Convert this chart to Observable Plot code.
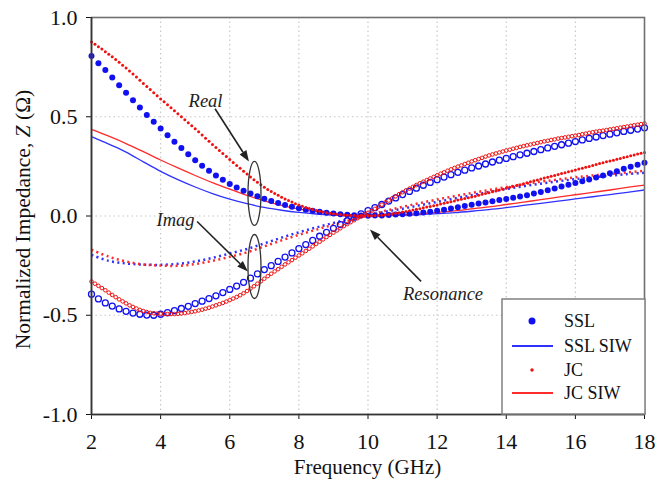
<!DOCTYPE html>
<html>
<head>
<meta charset="utf-8">
<script src="https://cdn.jsdelivr.net/npm/d3@7"></script>
<script src="https://cdn.jsdelivr.net/npm/@observablehq/plot@0.6"></script>
<style>
  html, body { margin: 0; padding: 0; background: #fff; }
  #chart { width: 668px; height: 483px; }
</style>
</head>
<body>
<div id="chart"></div>
<script>
// ---------------- data ----------------
const xTicks = [2, 4, 6, 8, 10, 12, 14, 16, 18];
const yTicks = [-1.0, -0.5, 0.0, 0.5, 1.0];

const freqSSL = [2.0,2.2,2.4,2.6,2.8,3.0,3.2,3.4,3.6,3.8,4.0,4.2,4.4,4.6,4.8,5.0,5.2,5.4,5.6,5.8,
  6.0,6.2,6.4,6.6,6.8,7.0,7.2,7.4,7.6,7.8,8.0,8.2,8.4,8.6,8.8,9.0,9.2,9.4,9.6,9.8,
  10.0,10.2,10.4,10.6,10.8,11.0,11.2,11.4,11.6,11.8,12.0,12.2,12.4,12.6,12.8,13.0,13.2,13.4,13.6,13.8,
  14.0,14.2,14.4,14.6,14.8,15.0,15.2,15.4,15.6,15.8,16.0,16.2,16.4,16.6,16.8,17.0,17.2,17.4,17.6,17.8,18.0];
const sslReal = [0.806,0.770,0.736,0.698,0.659,0.621,0.583,0.546,0.509,0.475,
  0.441,0.407,0.374,0.342,0.311,0.281,0.253,0.228,0.204,0.182,
  0.161,0.143,0.127,0.113,0.100,0.087,0.075,0.065,0.056,0.047,
  0.039,0.032,0.027,0.021,0.017,0.013,0.009,0.006,0.004,0.002,
  0.001,0.002,0.003,0.005,0.007,0.009,0.011,0.014,0.018,0.022,
  0.026,0.032,0.038,0.044,0.051,0.057,0.063,0.068,0.074,0.080,
  0.086,0.092,0.098,0.105,0.113,0.121,0.130,0.139,0.148,0.157,
  0.166,0.175,0.184,0.194,0.204,0.215,0.226,0.238,0.248,0.258,0.268];
const sslImag = [-0.394,-0.418,-0.438,-0.454,-0.468,-0.480,-0.489,-0.495,-0.499,-0.500,
  -0.495,-0.487,-0.477,-0.466,-0.455,-0.441,-0.429,-0.416,-0.402,-0.386,
  -0.370,-0.353,-0.334,-0.313,-0.292,-0.270,-0.250,-0.229,-0.207,-0.186,
  -0.164,-0.144,-0.123,-0.102,-0.082,-0.062,-0.043,-0.024,-0.006,0.011,
  0.027,0.042,0.058,0.075,0.091,0.108,0.124,0.140,0.155,0.169,
  0.183,0.196,0.208,0.220,0.231,0.242,0.252,0.262,0.272,0.281,
  0.290,0.299,0.308,0.316,0.325,0.334,0.343,0.351,0.359,0.367,
  0.375,0.383,0.391,0.398,0.405,0.412,0.419,0.426,0.432,0.438,0.444];

const freqJC = [2.0,2.1,2.2,2.3,2.4,2.5,2.6,2.7,2.8,2.9,3.0,3.1,3.2,3.3,3.4,3.5,3.6,3.7,3.8,3.9,
  4.0,4.1,4.2,4.3,4.4,4.5,4.6,4.7,4.8,4.9,5.0,5.1,5.2,5.3,5.4,5.5,5.6,5.7,5.8,5.9,
  6.0,6.1,6.2,6.3,6.4,6.5,6.6,6.7,6.8,6.9,7.0,7.1,7.2,7.3,7.4,7.5,7.6,7.7,7.8,7.9,
  8.0,8.1,8.2,8.3,8.4,8.5,8.6,8.7,8.8,8.9,9.0,9.1,9.2,9.3,9.4,9.5,9.6,9.7,9.8,9.9,
  10.0,10.1,10.2,10.3,10.4,10.5,10.6,10.7,10.8,10.9,11.0,11.1,11.2,11.3,11.4,11.5,11.6,11.7,11.8,11.9,
  12.0,12.1,12.2,12.3,12.4,12.5,12.6,12.7,12.8,12.9,13.0,13.1,13.2,13.3,13.4,13.5,13.6,13.7,13.8,13.9,
  14.0,14.1,14.2,14.3,14.4,14.5,14.6,14.7,14.8,14.9,15.0,15.1,15.2,15.3,15.4,15.5,15.6,15.7,15.8,15.9,
  16.0,16.1,16.2,16.3,16.4,16.5,16.6,16.7,16.8,16.9,17.0,17.1,17.2,17.3,17.4,17.5,17.6,17.7,17.8,17.9,18.0];
const jcReal = [0.877,0.865,0.853,0.841,0.828,0.815,0.802,0.788,0.774,0.760,
  0.745,0.730,0.715,0.700,0.684,0.668,0.652,0.637,0.621,0.606,
  0.590,0.575,0.560,0.545,0.530,0.515,0.500,0.485,0.470,0.455,
  0.440,0.424,0.408,0.392,0.376,0.360,0.345,0.330,0.315,0.300,
  0.285,0.270,0.255,0.240,0.225,0.211,0.197,0.183,0.170,0.157,
  0.145,0.134,0.123,0.113,0.104,0.095,0.086,0.078,0.070,0.062,
  0.055,0.049,0.043,0.038,0.033,0.028,0.024,0.020,0.017,0.014,
  0.011,0.009,0.007,0.005,0.004,0.003,0.002,0.001,0.001,0.000,
  0.000,0.001,0.002,0.003,0.004,0.006,0.008,0.011,0.014,0.017,
  0.020,0.023,0.027,0.030,0.034,0.037,0.041,0.045,0.048,0.052,
  0.056,0.060,0.064,0.068,0.072,0.076,0.080,0.084,0.088,0.092,
  0.096,0.100,0.104,0.109,0.113,0.117,0.122,0.126,0.131,0.135,
  0.140,0.145,0.149,0.154,0.158,0.163,0.168,0.172,0.177,0.181,
  0.186,0.191,0.195,0.200,0.204,0.209,0.214,0.218,0.223,0.227,
  0.232,0.237,0.241,0.246,0.250,0.255,0.259,0.264,0.268,0.273,
  0.277,0.281,0.286,0.290,0.295,0.299,0.303,0.307,0.312,0.316,0.320];
const jcImag = [-0.330,-0.341,-0.352,-0.363,-0.374,-0.386,-0.398,-0.409,-0.420,-0.430,
  -0.440,-0.450,-0.458,-0.466,-0.473,-0.479,-0.484,-0.488,-0.490,-0.492,
  -0.493,-0.494,-0.494,-0.494,-0.494,-0.493,-0.491,-0.489,-0.486,-0.483,
  -0.480,-0.476,-0.472,-0.467,-0.462,-0.456,-0.450,-0.444,-0.438,-0.431,
  -0.424,-0.416,-0.408,-0.399,-0.389,-0.378,-0.366,-0.354,-0.341,-0.329,
  -0.316,-0.303,-0.291,-0.279,-0.268,-0.256,-0.244,-0.233,-0.222,-0.210,
  -0.199,-0.188,-0.176,-0.165,-0.153,-0.141,-0.130,-0.118,-0.106,-0.095,
  -0.084,-0.073,-0.062,-0.051,-0.041,-0.031,-0.021,-0.011,-0.002,0.007,
  0.016,0.026,0.036,0.046,0.057,0.068,0.078,0.089,0.099,0.110,
  0.120,0.129,0.138,0.147,0.156,0.165,0.173,0.181,0.189,0.197,
  0.205,0.213,0.220,0.228,0.235,0.242,0.249,0.255,0.262,0.268,
  0.275,0.281,0.287,0.293,0.299,0.305,0.310,0.315,0.320,0.325,
  0.330,0.334,0.339,0.343,0.348,0.352,0.356,0.360,0.364,0.368,
  0.372,0.376,0.379,0.383,0.386,0.390,0.393,0.396,0.399,0.402,
  0.405,0.408,0.412,0.415,0.419,0.422,0.425,0.428,0.430,0.433,
  0.436,0.439,0.442,0.445,0.448,0.451,0.454,0.457,0.460,0.463,0.466];

const freqSIW = [2.0,2.5,3.0,3.5,4.0,4.5,5.0,5.5,6.0,6.5,7.0,7.5,8.0,8.5,9.0,9.5,
  10.0,10.5,11.0,11.5,12.0,12.5,13.0,13.5,14.0,14.5,15.0,15.5,16.0,16.5,17.0,17.5,18.0];
const sslSiwReal = [0.400,0.362,0.322,0.273,0.225,0.183,0.146,0.113,0.085,0.062,0.043,0.029,0.018,0.010,0.005,0.002,
  0.001,0.002,0.004,0.007,0.012,0.017,0.024,0.032,0.042,0.053,0.064,0.075,0.086,0.097,0.108,0.119,0.131];
const jcSiwReal = [0.436,0.402,0.365,0.324,0.282,0.242,0.204,0.168,0.135,0.104,0.076,0.053,0.035,0.022,0.012,0.005,
  0.002,0.003,0.006,0.011,0.018,0.026,0.036,0.046,0.058,0.070,0.082,0.095,0.107,0.119,0.131,0.144,0.156];
const sslSiwImag = [-0.196,-0.226,-0.239,-0.245,-0.246,-0.241,-0.229,-0.211,-0.189,-0.166,-0.138,-0.109,-0.082,-0.058,-0.035,-0.015,
  0.004,0.021,0.037,0.054,0.071,0.088,0.105,0.121,0.136,0.150,0.163,0.175,0.186,0.195,0.203,0.211,0.218];
const jcSiwImag = [-0.170,-0.205,-0.229,-0.244,-0.250,-0.251,-0.242,-0.226,-0.206,-0.183,-0.153,-0.123,-0.095,-0.069,-0.044,-0.020,
  0.004,0.026,0.046,0.065,0.083,0.100,0.116,0.131,0.146,0.160,0.173,0.184,0.195,0.204,0.212,0.220,0.228];

const legendLabels = ["SSL", "SSL SIW", "JC", "JC SIW"];
const annLabels = ["Real", "Imag", "Resonance"];
const annFreq = [5.30, 4.43, 12.17];
const annValue = [0.548, -0.05, -0.423];
const arrowFrom = [[5.59, 0.538], [5.07, -0.030], [11.55, -0.332]];
const arrowTo = [[6.57, 0.272], [6.54, -0.282], [10.07, -0.070]];
const ellipseAt = [[6.73, 0.111], [6.73, -0.257]];

// ---------------- tables ----------------
const zip = (xs, ys) => xs.map((x, i) => ({x, y: ys[i]}));
const tSslReal = zip(freqSSL, sslReal);
const tSslImag = zip(freqSSL, sslImag);
const tJcReal = zip(freqJC, jcReal);
const tJcImag = zip(freqJC, jcImag);
const tSslSiwReal = zip(freqSIW, sslSiwReal);
const tJcSiwReal = zip(freqSIW, jcSiwReal);
const tSslSiwImag = zip(freqSIW, sslSiwImag);
const tJcSiwImag = zip(freqSIW, jcSiwImag);
const tAnn = annLabels.map((t, i) => ({t, x: annFreq[i], y: annValue[i]}));

const BLUE = "#1010f0", RED = "#f01010";
const BLUE_L = "#3030ff", RED_L = "#ff2a2a";
const SERIF = "'Liberation Serif', 'Times New Roman', serif";

const plot = Plot.plot({
  width: 668, height: 483,
  marginLeft: 91, marginRight: 24, marginTop: 17, marginBottom: 69,
  style: {fontFamily: SERIF, fontSize: "22px", background: "#fff", color: "#111", overflow: "visible"},
  x: {domain: [2, 18], ticks: xTicks, tickSize: 5, tickPadding: 14, label: null, tickFormat: d => String(d)},
  y: {domain: [-1, 1], ticks: yTicks, tickSize: 5, tickPadding: 9, label: null, tickFormat: d => d.toFixed(1)},
  marks: [
    Plot.ruleX(xTicks.slice(1, -1), {stroke: "#c8c8c8", strokeWidth: 1.2, strokeDasharray: "1.5,3"}),
    Plot.ruleY(yTicks.slice(1, -1), {stroke: "#c8c8c8", strokeWidth: 1.2, strokeDasharray: "1.5,3"}),
    Plot.line(tSslSiwReal, {x: "x", y: "y", stroke: BLUE_L, strokeWidth: 1.3, curve: "catmull-rom"}),
    Plot.line(tJcSiwReal, {x: "x", y: "y", stroke: RED_L, strokeWidth: 1.3, curve: "catmull-rom"}),
    Plot.line(tSslSiwImag, {x: "x", y: "y", stroke: BLUE_L, strokeWidth: 2.5, strokeDasharray: "2,3.4", strokeLinecap: "butt", curve: "catmull-rom"}),
    Plot.line(tJcSiwImag, {x: "x", y: "y", stroke: RED_L, strokeWidth: 2.5, strokeDasharray: "2,3.4", strokeLinecap: "butt", curve: "catmull-rom"}),
    Plot.dot(tSslReal, {x: "x", y: "y", r: 3, fill: BLUE, stroke: "none"}),
    Plot.dot(tSslImag, {x: "x", y: "y", r: 3, fill: "none", stroke: BLUE, strokeWidth: 1.3}),
    Plot.dot(tJcReal, {x: "x", y: "y", r: 1.5, fill: RED, stroke: "none"}),
    Plot.dot(tJcImag, {x: "x", y: "y", r: 1.8, fill: "none", stroke: RED, strokeWidth: 1}),
    Plot.text(tAnn, {x: "x", y: "y", text: "t", fontStyle: "italic", fontSize: 18.5, fill: "#222", textAnchor: "middle", lineAnchor: "bottom"}),
    Plot.frame({stroke: "#707070", strokeWidth: 1.6}),
    Plot.ruleX([2], {stroke: "#333", strokeWidth: 1.6}),
    Plot.ruleY([-1], {stroke: "#333", strokeWidth: 1.6})
  ]
});
document.getElementById("chart").append(plot);

const sx = plot.scale("x"), sy = plot.scale("y");
const X = v => sx.apply(v), Y = v => sy.apply(v);
const svg = d3.select(plot);
const g = svg.append("g");

// ellipses
ellipseAt.forEach(([f, v]) => {
  g.append("ellipse").attr("cx", X(f)).attr("cy", Y(v)).attr("rx", 6.5).attr("ry", 32)
    .attr("fill", "none").attr("stroke", "#333").attr("stroke-width", 1.3);
});
// arrows
arrowFrom.forEach((a, i) => {
  const b = arrowTo[i];
  const x1 = X(a[0]), y1 = Y(a[1]), x2 = X(b[0]), y2 = Y(b[1]);
  const ang = Math.atan2(y2 - y1, x2 - x1);
  const L = 11, W = 4;
  const bx = x2 - L * Math.cos(ang), by = y2 - L * Math.sin(ang);
  g.append("line").attr("x1", x1).attr("y1", y1).attr("x2", bx).attr("y2", by)
    .attr("stroke", "#222").attr("stroke-width", 1.6);
  const px = -Math.sin(ang) * W, py = Math.cos(ang) * W;
  g.append("polygon").attr("points", `${x2},${y2} ${bx + px},${by + py} ${bx - px},${by - py}`)
    .attr("fill", "#222");
});

// axis labels
svg.append("text").attr("x", 367.5).attr("y", 474).attr("text-anchor", "middle")
  .attr("font-family", SERIF).attr("font-size", 21).attr("fill", "#111").text("Frequency (GHz)");
const yl = svg.append("text").attr("transform", "translate(29.5,219.5) rotate(-90)")
  .attr("text-anchor", "middle").attr("font-family", SERIF).attr("font-size", 21.5).attr("fill", "#111");
yl.append("tspan").text("Normalized Impedance, ");
yl.append("tspan").attr("font-style", "italic").text("Z");
yl.append("tspan").text(" (Ω)");

// legend
const lg = svg.append("g");
lg.append("rect").attr("x", 502).attr("y", 299).attr("width", 143).attr("height", 115)
  .attr("fill", "#fff").attr("stroke", "#808080").attr("stroke-width", 1.5);
const rowsY = [321, 346, 370, 393];
lg.append("circle").attr("cx", 532).attr("cy", rowsY[0]).attr("r", 3.5).attr("fill", BLUE);
lg.append("line").attr("x1", 512).attr("x2", 553).attr("y1", rowsY[1]).attr("y2", rowsY[1]).attr("stroke", BLUE_L).attr("stroke-width", 2);
lg.append("circle").attr("cx", 532).attr("cy", rowsY[2]).attr("r", 1.7).attr("fill", RED);
lg.append("line").attr("x1", 512).attr("x2", 553).attr("y1", rowsY[3]).attr("y2", rowsY[3]).attr("stroke", RED_L).attr("stroke-width", 2);
legendLabels.forEach((t, i) => {
  lg.append("text").attr("x", 564).attr("y", rowsY[i] + 6).attr("text-anchor", "start")
    .attr("font-family", SERIF).attr("font-size", 18).attr("fill", "#111").text(t);
});
</script>
</body>
</html>
